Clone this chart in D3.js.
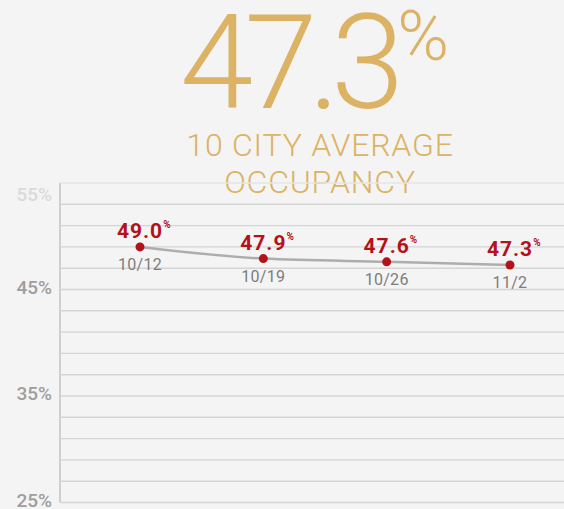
<!DOCTYPE html>
<html><head><meta charset="utf-8">
<script src="https://cdn.jsdelivr.net/npm/d3@7/dist/d3.min.js"></script>
<style>
html,body{margin:0;padding:0;background:#f4f4f4;}
svg{display:block;font-family:Roboto,"Noto Sans",sans-serif;}
</style></head>
<body>
<svg id="chart" width="564" height="509"></svg>
<script>
const headline = "47.3";
const subtitleLines = ["10 CITY AVERAGE", "OCCUPANCY"];
const dates = ["10/12", "10/19", "10/26", "11/2"];
const occupancy = [49.0, 47.9, 47.6, 47.3];
const yTicks = [25, 35, 45, 55];
const gridValues = d3.range(25, 56, 2);

const svg = d3.select("#chart");
const W = 564, H = 509;
svg.append("rect").attr("width", W).attr("height", H).attr("fill", "#f4f4f4");

const gold = "#dcb264";
// headline
const hl = svg.append("text").attr("x", 180).attr("y", 108)
  .attr("font-size", 132).attr("font-weight", 300).attr("fill", gold)
  .attr("letter-spacing", -9).text(headline);
const hlW = hl.node().getComputedTextLength();
svg.append("text").attr("x", 180 + hlW + 2).attr("y", 60)
  .attr("font-size", 70).attr("font-weight", 300).attr("fill", gold).text("%");
subtitleLines.forEach((s, i) => {
  svg.append("text").attr("x", 320).attr("y", 156 + i * 37)
    .attr("text-anchor", "middle").attr("font-size", 32).attr("font-weight", 300)
    .attr("letter-spacing", 0.8)
    .attr("fill", gold).text(s);
});

const x = d3.scalePoint().domain(dates).range([140, 510]);
const y = d3.scaleLinear().domain([25, 55]).range([502.5, 183]);
const left = 60;

// grid
svg.append("g").selectAll("line").data(gridValues).join("line")
  .attr("x1", left).attr("x2", W)
  .attr("y1", d => y(d)).attr("y2", d => y(d))
  .attr("stroke", d => d >= 55 ? "#e6e6e6" : "#d4d4d4").attr("stroke-width", 1.4);
svg.append("line").attr("x1", left).attr("x2", left).attr("y1", y(55)).attr("y2", y(25))
  .attr("stroke", "#d0d0d0").attr("stroke-width", 2);

// y tick labels
svg.append("g").selectAll("text").data(yTicks).join("text")
  .attr("x", 52).attr("y", d => d === 55 ? y(d) + 18 : y(d) + 4)
  .attr("text-anchor", "end").attr("font-size", 19).attr("font-weight", 500)
  .attr("fill", d => d === 55 ? "#dadada" : "#9e9e9e").text(d => d + "%");

// line
const pts = dates.map((d, i) => ({date: d, v: occupancy[i]}));
svg.append("path").datum(pts)
  .attr("d", d3.line().x(d => x(d.date)).y(d => y(d.v)).curve(d3.curveMonotoneX))
  .attr("fill", "none").attr("stroke", "#adadad").attr("stroke-width", 2.5);

const red = "#b3121b";
const g = svg.append("g").selectAll("g").data(pts).join("g");
g.append("circle").attr("cx", d => x(d.date)).attr("cy", d => y(d.v)).attr("r", 4.5).attr("fill", red);
g.each(function(d) {
  const sel = d3.select(this);
  const t = sel.append("text").attr("x", x(d.date)).attr("y", y(d.v) - 9)
    .attr("text-anchor", "middle").attr("font-size", 21).attr("font-weight", 700)
    .attr("fill", red).attr("letter-spacing", 1).text(d.v.toFixed(1));
  const w = t.node().getComputedTextLength();
  sel.append("text").attr("x", x(d.date) + w / 2).attr("y", y(d.v) - 19)
    .attr("font-size", 10).attr("font-weight", 700).attr("fill", red).text("%");
  sel.append("text").attr("x", x(d.date)).attr("y", y(d.v) + 23)
    .attr("text-anchor", "middle").attr("font-size", 16).attr("fill", "#7d7d7d")
    .attr("letter-spacing", 0.3).text(d.date);
});
</script>
</body></html>
